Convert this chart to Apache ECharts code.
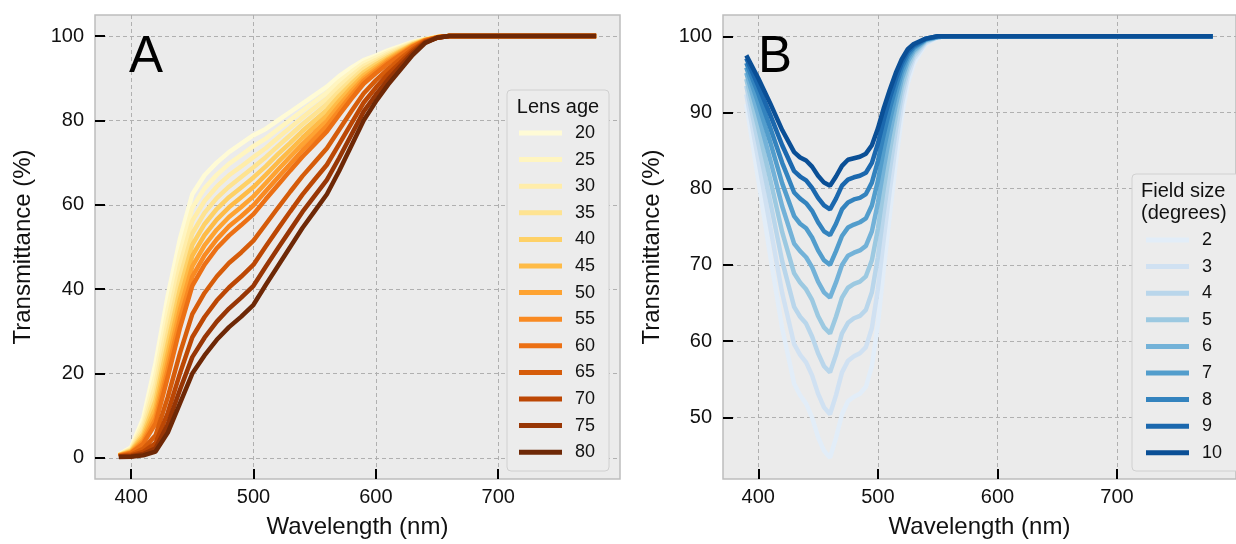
<!DOCTYPE html>
<html><head><meta charset="utf-8">
<script src="https://cdn.jsdelivr.net/npm/echarts@6/dist/echarts.min.js"></script>
<style>html,body{margin:0;padding:0;background:#fff}#c{width:1236px;height:544px}</style>
</head><body><div id="c"></div>
<script>
// ---------- Panel A data: lens transmittance by age ----------
const wavelengthsA = [390,400,410,420,430,440,450,460,470,480,490,500,510,520,530,540,550,560,570,580,590,600,610,620,630,640,650,660,780];
const lensAges = ['20','25','30','35','40','45','50','55','60','65','70','75','80'];
const lens20 = [0.8,2.5,9.5,22.5,38.5,52,62.5,67,70,72.5,74.5,76.5,78,80,82,84,86,88,90.5,92.5,94.3,95.4,96.6,97.6,98.6,99.3,99.8,100,100];
const lens25 = [0.75,2.26,8.35,19.8,35.3,48.7,59.3,63.9,67.1,69.7,71.8,73.9,75.7,77.9,80.1,82.3,84.5,86.6,89.3,91.5,93.6,94.9,96.2,97.3,98.5,99.25,99.8,100,100];
const lens30 = [0.7,2.05,7.34,17.5,32.4,45.7,56.2,60.9,64.3,67.0,69.1,71.3,73.4,75.9,78.3,80.7,83.0,85.2,88.1,90.6,92.9,94.3,95.8,97.1,98.3,99.2,99.8,100,100];
const lens35 = [0.66,1.85,6.44,15.4,29.7,42.8,53.2,58.1,61.6,64.3,66.6,68.9,71.3,73.9,76.5,79.1,81.5,83.9,86.9,89.6,92.2,93.8,95.4,96.8,98.2,99.15,99.75,100,100];
const lens40 = [0.62,1.68,5.66,13.6,27.2,40.1,50.5,55.4,59.0,61.8,64.1,66.5,69.1,72.0,74.7,77.5,80.0,82.5,85.8,88.7,91.4,93.3,95.0,96.5,98.0,99.1,99.75,100,100];
const lens45 = [0.58,1.52,4.98,11.9,24.9,37.6,47.9,52.8,56.5,59.4,61.8,64.2,67.1,70.1,73.0,75.9,78.6,81.2,84.6,87.8,90.7,92.7,94.6,96.3,97.9,99.05,99.7,100,100];
const lens50 = [0.54,1.38,4.37,10.5,22.8,35.2,45.4,50.4,54.1,57.1,59.5,62.0,65.1,68.3,71.4,74.4,77.2,79.9,83.5,86.9,90.0,92.2,94.3,96.0,97.7,99.0,99.7,100,100];
const lens55 = [0.51,1.24,3.84,9.25,20.9,33.0,43.0,48.0,51.8,54.9,57.3,59.9,63.2,66.5,69.7,72.9,75.8,78.7,82.4,86.0,89.4,91.7,93.9,95.7,97.6,98.95,99.7,100,100];
const lens60 = [0.48,1.13,3.37,8.15,19.2,30.9,40.8,45.8,49.7,52.7,55.2,57.8,61.3,64.7,68.1,71.4,74.4,77.4,81.3,85.1,88.7,91.2,93.5,95.5,97.4,98.9,99.7,100,100];
const lens65 = [0.38,0.81,2.19,5.34,14.4,24.9,34.1,39.1,43.0,46.2,48.7,51.5,55.4,59.3,63.1,66.8,70.1,73.4,77.8,82.2,86.4,89.5,92.2,94.6,96.9,98.75,99.65,100,100];
const lens70 = [0.31,0.58,1.42,3.5,10.7,20.1,28.6,33.4,37.3,40.4,43.0,45.8,50.1,54.3,58.4,62.4,66.0,69.5,74.4,79.3,84.2,87.8,91.0,93.7,96.5,98.6,99.6,100,100];
const lens75 = [0.25,0.42,0.92,2.29,8.0,16.2,23.9,28.5,32.3,35.4,38.0,40.8,45.3,49.7,54.0,58.3,62.1,65.9,71.1,76.6,82.1,86.1,89.7,92.9,96.0,98.45,99.6,100,100];
const lens80 = [0.2,0.3,0.6,1.5,6.0,13.0,20.0,24.3,28.0,31.0,33.5,36.3,41.0,45.5,50.0,54.5,58.5,62.5,68.0,74.0,80.0,84.5,88.5,92.0,95.5,98.3,99.6,100,100];
const lensSeries = [lens20,lens25,lens30,lens35,lens40,lens45,lens50,lens55,lens60,lens65,lens70,lens75,lens80];

// ---------- Panel B data: macular transmittance by field size ----------
const wavelengthsB = [390,400,410,420,430,435,440,445,450,455,460,465,470,475,480,485,490,495,500,505,510,515,520,525,530,540,550,560,780];
const fieldSizes = ['2','3','4','5','6','7','8','9','10'];
const field2  = [91.1,81.2,71.2,61.7,54.4,52.9,51.8,50.0,47.4,45.6,44.7,47.3,50.4,52.1,52.7,53.1,54.0,56.7,62.2,69.6,76.6,83.4,89.5,93.8,96.4,99.0,99.8,100,100];
const field3  = [92.4,83.8,75.0,66.3,59.6,58.2,57.2,55.5,53.1,51.3,50.4,52.9,55.9,57.4,58.0,58.4,59.2,61.7,66.8,73.5,79.8,85.7,91.0,94.7,97.0,99.1,99.9,100,100];
const field4  = [93.5,86.0,78.3,70.5,64.5,63.2,62.3,60.6,58.4,56.7,55.9,58.2,61.0,62.4,63.0,63.3,64.1,66.4,71.0,77.0,82.5,87.7,92.3,95.5,97.4,99.3,99.9,100,100];
const field5  = [94.4,88.0,81.2,74.3,68.9,67.7,66.8,65.4,63.3,61.8,61.0,63.2,65.7,67.0,67.5,67.8,68.5,70.6,74.7,80.1,85.0,89.5,93.4,96.1,97.8,99.4,99.9,100,100];
const field6  = [95.2,89.7,83.8,77.7,72.8,71.8,71.0,69.7,67.8,66.4,65.7,67.7,70.0,71.2,71.6,71.9,72.5,74.4,78.1,82.8,87.1,91.0,94.4,96.7,98.1,99.5,99.9,100,100];
const field7  = [95.9,91.2,86.1,80.7,76.4,75.4,74.8,73.6,71.9,70.6,70.0,71.8,73.8,74.9,75.3,75.6,76.1,77.8,81.0,85.2,88.9,92.3,95.2,97.2,98.4,99.6,99.9,100,100];
const field8  = [96.5,92.5,88.0,83.4,79.5,78.7,78.1,77.1,75.6,74.4,73.9,75.4,77.3,78.2,78.6,78.8,79.3,80.8,83.6,87.2,90.5,93.4,95.9,97.6,98.6,99.6,100,100,100];
const field9  = [97.1,93.5,89.7,85.7,82.3,81.6,81.1,80.1,78.8,77.8,77.3,78.7,80.4,81.2,81.5,81.7,82.1,83.4,85.9,89.1,91.9,94.4,96.5,98.0,98.8,99.7,100,100,100];
const field10 = [97.5,94.5,91.2,87.7,84.8,84.1,83.7,82.9,81.7,80.8,80.4,81.6,83.0,83.8,84.0,84.2,84.6,85.7,87.9,90.6,93.0,95.2,97.0,98.3,99.0,99.7,100,100,100];
const fieldSeries = [field2,field3,field4,field5,field6,field7,field8,field9,field10];

// ---------- ticks ----------
const xTicks = [400,500,600,700];
const yTicksA = [0,20,40,60,80,100];
const yTicksB = [50,60,70,80,90,100];

// ---------- styles ----------
const lensColors = ['#fffbd6','#fff5c0','#ffedaa','#fee391','#fed167','#febb47','#fea332','#f98a22','#ec7014','#d65c0a','#bc4704','#983605','#6e2806'];
const fieldColors = ['#e2edf8','#d0e1f2','#b9d6eb','#9cc9e1','#73b2d8','#529dcc','#3383be','#1b68ae','#0a4f96'];
const FONT = '"Liberation Sans", Arial, Helvetica, sans-serif';
const INK = '#111';

function xAxis(gi){
  return {type:'value', gridIndex:gi, min:370.5, max:799.5, position:'bottom',
    name:'Wavelength (nm)', nameLocation:'middle', nameGap:36,
    nameTextStyle:{fontSize:24, color:INK, fontFamily:FONT},
    axisLine:{show:false, onZero:false},
    axisTick:{show:true, inside:true, length:10, customValues:xTicks, lineStyle:{color:'#000', width:2}},
    axisLabel:{customValues:xTicks, fontSize:20, color:INK, margin:8, fontFamily:FONT},
    splitLine:{show:true, lineStyle:{color:'#b0b0b0', type:[4,3], width:1}}};
}
function yAxis(gi, mn, mx, ticks, gap){
  return {type:'value', gridIndex:gi, min:mn, max:mx, position:'left',
    name:'Transmittance (%)', nameLocation:'middle', nameGap:gap, nameRotate:90,
    nameTextStyle:{fontSize:24, color:INK, fontFamily:FONT},
    axisLine:{show:true, onZero:false, lineStyle:{color:'rgba(0,0,0,0)', width:1}},
    axisTick:{show:true, inside:true, length:10, customValues:ticks, lineStyle:{color:'#000', width:2}},
    axisLabel:{customValues:ticks, fontSize:20, color:INK, margin:11, fontFamily:FONT},
    splitLine:{show:true, lineStyle:{color:'#b0b0b0', type:[4,3], width:1}}};
}

const series = [];
lensSeries.forEach((arr, k) => {
  series.push({type:'line', name:lensAges[k], xAxisIndex:0, yAxisIndex:0, showSymbol:false, symbol:'none',
    color:lensColors[k], lineStyle:{width:4.5, color:lensColors[k]}, emphasis:{disabled:true},
    data: wavelengthsA.map((w,i)=>[w, arr[i]])});
});
fieldSeries.forEach((arr, k) => {
  series.push({type:'line', name:fieldSizes[k], xAxisIndex:1, yAxisIndex:1, showSymbol:false, symbol:'none',
    color:fieldColors[k], lineStyle:{width:4.5, color:fieldColors[k]}, emphasis:{disabled:true},
    data: wavelengthsB.map((w,i)=>[w, arr[i]])});
});

const gridStyle = {show:true, backgroundColor:'#ebebeb', borderColor:'#bdbdbd', borderWidth:1.5};
const legendCommon = {orient:'vertical', padding:0, itemWidth:43, itemHeight:5, itemGap:8.6,
  icon:'rect', selectedMode:false, z:10,
  textStyle:{fontSize:18, color:INK, fontFamily:FONT, padding:[0,0,0,8]}};

const option = {
  animation:false,
  backgroundColor:'#ffffff',
  grid:[Object.assign({left:95, top:15, width:525, height:466}, gridStyle),
        Object.assign({left:723, top:15, width:525, height:466}, gridStyle)],
  xAxis:[xAxis(0), xAxis(1)],
  yAxis:[yAxis(0, -5, 105, yTicksA, 60), yAxis(1, 41.9, 102.8, yTicksB, 59)],
  legend:[Object.assign({left:519, top:124, data:lensAges}, legendCommon),
          Object.assign({left:1146, top:231, data:fieldSizes}, legendCommon)],
  graphic:[
    {type:'rect', z:8, shape:{x:507, y:90, width:102, height:381, r:4}, style:{fill:'#ececec', stroke:'#d0d0d0', lineWidth:1}},
    {type:'rect', z:8, shape:{x:1132, y:174, width:130, height:297, r:4}, style:{fill:'#ececec', stroke:'#d0d0d0', lineWidth:1}},
    {type:'text', z:11, x:558, y:107, style:{text:'Lens age', fontSize:20, fill:INK, fontFamily:FONT, align:'center', verticalAlign:'middle'}},
    {type:'text', z:11, x:1141, y:191, style:{text:'Field size', fontSize:20, fill:INK, fontFamily:FONT, align:'left', verticalAlign:'middle'}},
    {type:'text', z:11, x:1141, y:213, style:{text:'(degrees)', fontSize:20, fill:INK, fontFamily:FONT, align:'left', verticalAlign:'middle'}},
    {type:'text', z:11, x:129, y:58, style:{text:'A', fontSize:51, fill:'#000', fontFamily:FONT, align:'left', verticalAlign:'middle'}},
    {type:'text', z:11, x:758, y:58, style:{text:'B', fontSize:51, fill:'#000', fontFamily:FONT, align:'left', verticalAlign:'middle'}}
  ],
  series: series
};
const chart = echarts.init(document.getElementById('c'), null, {renderer:'canvas'});
chart.setOption(option);
</script>
</body></html>
